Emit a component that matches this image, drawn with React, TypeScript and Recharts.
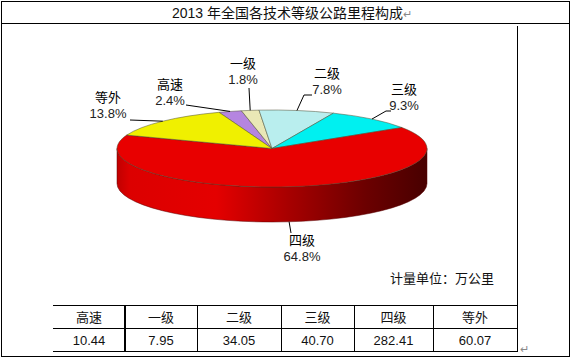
import { PieChart, Pie, Cell } from "recharts";

const categories = ["高速", "一级", "二级", "三级", "四级", "等外"];
const mileage = [10.44, 7.95, 34.05, 40.7, 282.41, 60.07];
const colors = ["#b585e0", "#e9e8b6", "#b9eeee", "#00f0f0", "#e80000", "#f0f000"];

const pieData = categories.map((name, i) => ({ name, value: mileage[i] }));

// label text centre and leader elbow, per slice
const labelSpots = [
  { x: 170, y: 89, elbow: [[186, 105]] },
  { x: 243, y: 68, elbow: [[249, 88]] },
  { x: 327, y: 78, elbow: [[304, 95], [312, 95]] },
  { x: 404, y: 94, elbow: [[386, 111], [391, 111]] },
  { x: 302, y: 245, elbow: [[291, 233]] },
  { x: 108, y: 102, elbow: [[130, 120]] },
];

const FONT = '"Liberation Sans", "Noto Sans CJK SC", sans-serif';
const RY_RATIO = 38.5 / 155;
const DEPTH = 35;
const RAD = Math.PI / 180;

const pt = (cx: number, cy: number, r: number, a: number) => [
  cx + r * Math.cos(a * RAD),
  cy - r * RY_RATIO * Math.sin(a * RAD),
];

function EllipseSlice(props: any) {
  const { cx, cy, outerRadius: r, startAngle, endAngle, fill } = props;
  const ry = r * RY_RATIO;
  const [sx, sy] = pt(cx, cy, r, startAngle);
  const [ex, ey] = pt(cx, cy, r, endAngle);
  const large = Math.abs(startAngle - endAngle) > 180 ? 1 : 0;
  const top = `M${cx},${cy} L${sx},${sy} A${r},${ry} 0 ${large} 1 ${ex},${ey} Z`;

  // only the front half of the rim shows
  const hi = Math.min(startAngle, 0);
  const lo = Math.max(endAngle, -180);
  let side = null;
  if (hi > lo) {
    const [ax, ay] = pt(cx, cy, r, hi);
    const [bx, by] = pt(cx, cy, r, lo);
    side = (
      <path
        d={`M${ax},${ay} A${r},${ry} 0 0 1 ${bx},${by} L${bx},${by + DEPTH} A${r},${ry} 0 0 0 ${ax},${ay + DEPTH} Z`}
        fill="url(#rimShade)"
        stroke="#5a0000"
        strokeWidth={0.5}
      />
    );
  }
  return (
    <g>
      {side}
      <path d={top} fill={fill} stroke="#4a4a30" strokeWidth={0.5} />
    </g>
  );
}

function renderLabel(props: any) {
  const { cx, cy, outerRadius, midAngle, percent, index, name } = props;
  const spot = labelSpots[index];
  let [ax, ay] = pt(cx, cy, outerRadius, midAngle);
  if (Math.sin(midAngle * RAD) < 0) ay += DEPTH;
  const points = [[ax, ay], ...spot.elbow].map((p) => p.join(",")).join(" ");
  return (
    <g key={name}>
      <polyline points={points} fill="none" stroke="#000" strokeWidth={1} />
      <text x={spot.x} y={spot.y} textAnchor="middle" fontSize={13} fontFamily={FONT} fill="#000">
        {name}
      </text>
      <text x={spot.x} y={spot.y + 16} textAnchor="middle" fontSize={13} fontFamily={FONT} fill="#222">
        {(percent * 100).toFixed(1)}%
      </text>
    </g>
  );
}

const colEdges = [53, 125, 197, 281, 354, 433, 517];

const line = (left: number, top: number, width: number, height: number) => (
  <div style={{ position: "absolute", left, top, width, height, background: "#000" }} />
);

const cell = (text: string, i: number, top: number) => (
  <div
    key={text + i}
    style={{
      position: "absolute",
      left: colEdges[i],
      width: colEdges[i + 1] - colEdges[i],
      top,
      height: 23,
      lineHeight: "23px",
      textAlign: "center",
      fontSize: 13,
      fontFamily: FONT,
      color: "#111",
    }}
  >
    {text}
  </div>
);

export default function App() {
  return (
    <div style={{ position: "absolute", left: 0, top: 0, width: 571, height: 357, background: "#fff", overflow: "hidden" }}>
      <PieChart width={571} height={357} margin={{ top: 0, right: 0, bottom: 0, left: 0 }}>
        <defs>
          <linearGradient id="rimShade" x1="0" y1="0" x2="1" y2="0">
            <stop offset="0%" stopColor="#c00000" />
            <stop offset="4%" stopColor="#dc0000" />
            <stop offset="32%" stopColor="#e40000" />
            <stop offset="55%" stopColor="#a80000" />
            <stop offset="80%" stopColor="#6c0000" />
            <stop offset="100%" stopColor="#480000" />
          </linearGradient>
        </defs>
        <Pie
          data={pieData}
          dataKey="value"
          nameKey="name"
          cx={272}
          cy={148.5}
          innerRadius={0}
          outerRadius={155}
          startAngle={110}
          endAngle={-250}
          isAnimationActive={false}
          shape={EllipseSlice}
          label={renderLabel}
          labelLine={false}
        >
          {categories.map((c, i) => (
            <Cell key={c} fill={colors[i]} />
          ))}
        </Pie>
      </PieChart>

      {/* frame */}
      {line(1, 1, 569, 1)}
      {line(1, 23, 569, 1)}
      {line(1, 356, 569, 1)}
      {line(1, 1, 1, 356)}
      {line(569, 1, 1, 356)}
      {line(517, 26, 1, 326)}

      <div style={{ position: "absolute", left: 172, top: 4, height: 18, lineHeight: "18px", fontSize: 14, fontFamily: FONT, color: "#111", whiteSpace: "pre" }}>
        2013 年全国各技术等级公路里程构成<span style={{ fontSize: 11, color: "#888" }}>↵</span>
      </div>

      <div style={{ position: "absolute", left: 390, top: 271, fontSize: 13, lineHeight: "16px", fontFamily: FONT, color: "#111", whiteSpace: "pre" }}>
        计量单位：万公里
      </div>

      {/* table */}
      {line(53, 305, 464, 1)}
      {line(53, 328, 464, 1)}
      {line(53, 351, 464, 1)}
      {line(124, 305, 2, 47)}
      {colEdges.slice(2, 6).map((x) => (
        <div key={x} style={{ position: "absolute", left: x, top: 305, width: 1, height: 47, background: "#000" }} />
      ))}
      {categories.map((c, i) => cell(c, i, 306))}
      {mileage.map((m, i) => cell(m.toFixed(2), i, 329))}
      <div style={{ position: "absolute", left: 520, top: 343, fontSize: 11, lineHeight: "12px", color: "#888", fontFamily: FONT }}>↵</div>
    </div>
  );
}
